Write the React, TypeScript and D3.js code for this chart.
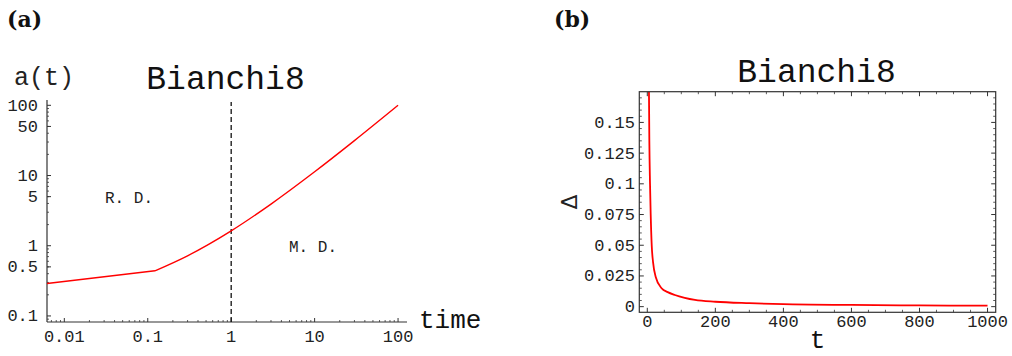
import * as d3 from "d3";

// panel (a): scale factor a(t) on log-log axes
const rdTime = [0.0062, 0.122];
const rdA = [0.29, 0.44];
const mdTime = [0.122, 0.3, 1, 3, 10, 30, 100];
const mdA = [0.44, 0.72, 1.63, 3.92, 11.3, 31.4, 100];
const aXTicks = [0.01, 0.1, 1, 10, 100];
const aXLabels = ["0.01", "0.1", "1", "10", "100"];
const aYTicks = [0.1, 0.5, 1, 5, 10, 50, 100];
const aYLabels = ["0.1", "0.5", "1", "5", "10", "50", "100"];

// panel (b): Delta against t
const bTime = [4.5, 6, 8, 10, 13, 17, 25, 42, 60, 81, 110, 140, 200, 300, 400, 600, 800, 1000];
const bDelta = [0.19, 0.135, 0.1, 0.075, 0.05, 0.036, 0.024, 0.015, 0.0118, 0.0095, 0.0072, 0.0055, 0.004, 0.0028, 0.002, 0.0014, 0.001, 0.0008];
const bXTicks = [0, 200, 400, 600, 800, 1000];
const bYTicks = [0, 0.025, 0.05, 0.075, 0.1, 0.125, 0.15];
const bYLabels = ["0", "0.025", "0.05", "0.075", "0.1", "0.125", "0.15"];

const mono = "'Liberation Mono', 'DejaVu Sans Mono', monospace";
const axisColor = "#333";

function PanelA() {
  const x = d3.scaleLog().domain([0.0062, 128]).range([47, 407]);
  const y = d3.scaleLog().domain([0.082, 119]).range([322, 100]);
  const [x0, x1] = x.range();
  const [yb, yt] = y.range();

  const minorX: number[] = [];
  const minorY: number[] = [];
  for (let e = -3; e <= 2; e++) {
    for (let k = 2; k <= 9; k++) {
      const v = k * Math.pow(10, e);
      if (v > 0.0062 && v < 128) minorX.push(v);
      if (v > 0.082 && v < 119) minorY.push(v);
    }
  }

  const line = d3
    .line<[number, number]>()
    .x((d) => x(d[0]))
    .y((d) => y(d[1]));
  const curved = d3
    .line<[number, number]>()
    .x((d) => x(d[0]))
    .y((d) => y(d[1]))
    .curve(d3.curveMonotoneX);

  const rd = rdTime.map((t, i) => [t, rdA[i]] as [number, number]);
  const md = mdTime.map((t, i) => [t, mdA[i]] as [number, number]);

  return (
    <g>
      <text x={7} y={27} fontFamily="'DejaVu Serif', serif" fontWeight="bold" fontSize={22} fill="#111">
        (a)
      </text>
      <text x={14} y={85} fontFamily={mono} fontSize={25} fill="#222">
        a(t)
      </text>
      <text x={225.5} y={89} textAnchor="middle" fontFamily={mono} fontSize={33} fill="#111">
        Bianchi8
      </text>

      {/* axes */}
      <line x1={x0} x2={x1} y1={yb} y2={yb} stroke={axisColor} strokeWidth={1.2} />
      <line x1={x0} x2={x0} y1={yb} y2={yt} stroke={axisColor} strokeWidth={1.2} />

      {minorX.map((v) => (
        <line key={"mx" + v} x1={x(v)} x2={x(v)} y1={yb} y2={yb - 2} stroke={axisColor} strokeWidth={0.8} />
      ))}
      {aXTicks.map((v, i) => (
        <g key={"x" + v}>
          <line x1={x(v)} x2={x(v)} y1={yb} y2={yb - 4} stroke={axisColor} strokeWidth={1} />
          <text x={x(v)} y={342} textAnchor="middle" fontFamily={mono} fontSize={17} fill="#222">
            {aXLabels[i]}
          </text>
        </g>
      ))}
      {minorY.map((v) => (
        <line key={"my" + v} x1={x0} x2={x0 + 2} y1={y(v)} y2={y(v)} stroke={axisColor} strokeWidth={0.8} />
      ))}
      {aYTicks.map((v, i) => (
        <g key={"y" + v}>
          <line x1={x0} x2={x0 + 4} y1={y(v)} y2={y(v)} stroke={axisColor} strokeWidth={1} />
          <text x={38} y={y(v) + 5.5} textAnchor="end" fontFamily={mono} fontSize={17} fill="#222">
            {aYLabels[i]}
          </text>
        </g>
      ))}

      <text x={419} y={328} fontFamily={mono} fontSize={26} fill="#111">
        time
      </text>

      {/* radiation / matter boundary */}
      <line x1={x(1)} x2={x(1)} y1={yb} y2={102} stroke="#111" strokeWidth={1.3} strokeDasharray="5,3" />
      <text x={105} y={203} fontFamily={mono} fontSize={16} fill="#222">
        R. D.
      </text>
      <text x={289} y={252} fontFamily={mono} fontSize={16} fill="#222">
        M. D.
      </text>

      <path d={line(rd) || ""} fill="none" stroke="#f00" strokeWidth={1.4} />
      <path d={curved(md) || ""} fill="none" stroke="#f00" strokeWidth={1.4} />
    </g>
  );
}

function PanelB() {
  const x = d3.scaleLinear().domain([-23.5, 1024]).range([639.3, 995.7]);
  const y = d3.scaleLinear().domain([-0.0046, 0.175]).range([312.3, 91.7]);
  const [x0, x1] = x.range();
  const [yb, yt] = y.range();

  const minorX = d3.range(0, 1001, 50).filter((v) => v % 200 !== 0);
  const minorY = d3.range(0, 36).map((i) => i * 0.005).filter((v, i) => i % 5 !== 0 && v < 0.175);

  const line = d3
    .line<[number, number]>()
    .x((d) => x(d[0]))
    .y((d) => y(d[1]))
    .curve(d3.curveMonotoneX);
  const pts = bTime.map((t, i) => [t, bDelta[i]] as [number, number]);

  return (
    <g>
      <text x={554} y={27} fontFamily="'DejaVu Serif', serif" fontWeight="bold" fontSize={22} fill="#111">
        (b)
      </text>
      <text x={816.5} y={82} textAnchor="middle" fontFamily={mono} fontSize={33} fill="#111">
        Bianchi8
      </text>

      <defs>
        <clipPath id="clipB">
          <rect x={x0} y={yt} width={x1 - x0} height={yb - yt} />
        </clipPath>
      </defs>

      {minorX.map((v) => (
        <g key={"mx" + v}>
          <line x1={x(v)} x2={x(v)} y1={yb} y2={yb - 2.5} stroke={axisColor} strokeWidth={0.8} />
          <line x1={x(v)} x2={x(v)} y1={yt} y2={yt + 2.5} stroke={axisColor} strokeWidth={0.8} />
        </g>
      ))}
      {bXTicks.map((v) => (
        <g key={"x" + v}>
          <line x1={x(v)} x2={x(v)} y1={yb} y2={yb - 4.5} stroke={axisColor} strokeWidth={1} />
          <line x1={x(v)} x2={x(v)} y1={yt} y2={yt + 4.5} stroke={axisColor} strokeWidth={1} />
          <text x={x(v)} y={327} textAnchor="middle" fontFamily={mono} fontSize={17} fill="#222">
            {v}
          </text>
        </g>
      ))}
      {minorY.map((v) => (
        <g key={"my" + v}>
          <line x1={x0} x2={x0 + 2.5} y1={y(v)} y2={y(v)} stroke={axisColor} strokeWidth={0.8} />
          <line x1={x1} x2={x1 - 2.5} y1={y(v)} y2={y(v)} stroke={axisColor} strokeWidth={0.8} />
        </g>
      ))}
      {bYTicks.map((v, i) => (
        <g key={"y" + v}>
          <line x1={x0} x2={x0 + 4.5} y1={y(v)} y2={y(v)} stroke={axisColor} strokeWidth={1} />
          <line x1={x1} x2={x1 - 4.5} y1={y(v)} y2={y(v)} stroke={axisColor} strokeWidth={1} />
          <text x={635} y={y(v) + 5.5} textAnchor="end" fontFamily={mono} fontSize={17} fill="#222">
            {bYLabels[i]}
          </text>
        </g>
      ))}

      <path d={line(pts) || ""} fill="none" stroke="#f00" strokeWidth={1.8} clipPath="url(#clipB)" />

      <rect x={x0} y={yt} width={x1 - x0} height={yb - yt} fill="none" stroke={axisColor} strokeWidth={1.2} />

      <text x={817.5} y={348} textAnchor="middle" fontFamily={mono} fontSize={26} fill="#111">
        t
      </text>
      <text
        transform="translate(569,202) rotate(-90)"
        textAnchor="middle"
        dominantBaseline="central"
        fontFamily="'DejaVu Sans', sans-serif"
        fontSize={22}
        fill="#222"
      >
        Δ
      </text>
    </g>
  );
}

export default function App() {
  return (
    <svg
      width={1012}
      height={356}
      viewBox="0 0 1012 356"
      style={{ position: "absolute", left: 0, top: 0, background: "#fff" }}
    >
      <rect width={1012} height={356} fill="#fff" />
      <PanelA />
      <PanelB />
    </svg>
  );
}
